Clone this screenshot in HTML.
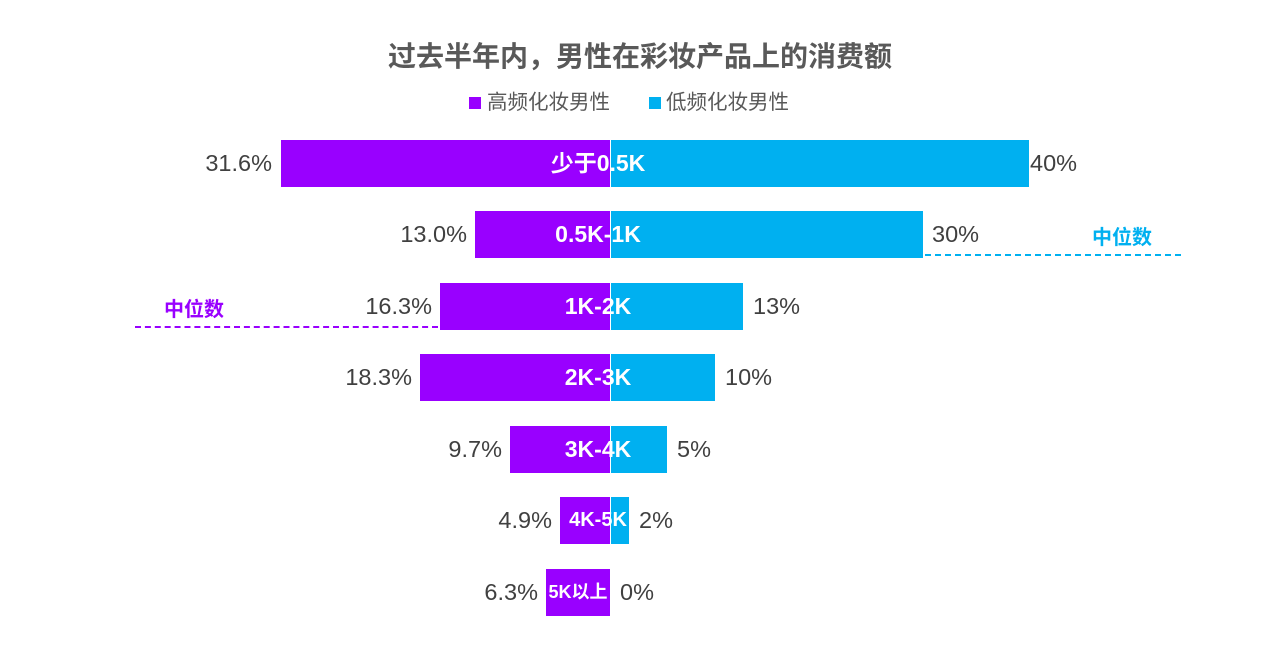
<!DOCTYPE html>
<html><head><meta charset="utf-8"><style>
body{margin:0;width:1280px;height:665px;background:#fff;position:relative;overflow:hidden;font-family:"Liberation Sans","Noto Sans CJK SC",sans-serif;}
.a{position:absolute;white-space:nowrap}
.p{background:#9900FF;position:absolute}
.b{background:#00B0F0;position:absolute}
.pl{position:absolute;font-size:23.5px;color:#404040;line-height:47px}
.lb{position:absolute;color:#fff;font-weight:bold;font-size:23px;line-height:47px;width:200px;text-align:center;left:498px}
</style></head><body>
<div class="a" style="left:0;width:1280px;text-align:center;top:39px;font-size:28px;font-weight:bold;color:#595959;line-height:36px">过去半年内，男性在彩妆产品上的消费额</div>
<div class="a" style="left:469px;top:97px;width:12px;height:12px;background:#9900FF"></div>
<div class="a" style="left:487px;top:89px;font-size:20.5px;color:#595959;line-height:28px">高频化妆男性</div>
<div class="a" style="left:649px;top:97px;width:12px;height:12px;background:#00B0F0"></div>
<div class="a" style="left:666px;top:89px;font-size:20.5px;color:#595959;line-height:28px">低频化妆男性</div>

<div class="p" style="left:281px;width:329px;top:140px;height:47px"></div>
<div class="b" style="left:611px;width:418px;top:140px;height:47px"></div>
<div class="pl" style="right:1008px;top:140px">31.6%</div>
<div class="pl" style="left:1030px;top:140px">40%</div>
<div class="lb" style="top:140px">少于0.5K</div>

<div class="p" style="left:475px;width:135px;top:211px;height:47px"></div>
<div class="b" style="left:611px;width:312px;top:211px;height:47px"></div>
<div class="pl" style="right:813px;top:211px">13.0%</div>
<div class="pl" style="left:932px;top:211px">30%</div>
<div class="lb" style="top:211px">0.5K-1K</div>

<div class="p" style="left:440px;width:170px;top:283px;height:47px"></div>
<div class="b" style="left:611px;width:132px;top:283px;height:47px"></div>
<div class="pl" style="right:848px;top:283px">16.3%</div>
<div class="pl" style="left:753px;top:283px">13%</div>
<div class="lb" style="top:283px">1K-2K</div>

<div class="p" style="left:420px;width:190px;top:354px;height:47px"></div>
<div class="b" style="left:611px;width:104px;top:354px;height:47px"></div>
<div class="pl" style="right:868px;top:354px">18.3%</div>
<div class="pl" style="left:725px;top:354px">10%</div>
<div class="lb" style="top:354px">2K-3K</div>

<div class="p" style="left:510px;width:100px;top:426px;height:47px"></div>
<div class="b" style="left:611px;width:56px;top:426px;height:47px"></div>
<div class="pl" style="right:778px;top:426px">9.7%</div>
<div class="pl" style="left:677px;top:426px">5%</div>
<div class="lb" style="top:426px">3K-4K</div>

<div class="p" style="left:560px;width:50px;top:497px;height:47px"></div>
<div class="b" style="left:611px;width:18px;top:497px;height:47px"></div>
<div class="pl" style="right:728px;top:497px">4.9%</div>
<div class="pl" style="left:639px;top:497px">2%</div>
<div class="lb" style="top:497px;font-size:20px">4K-5K</div>

<div class="p" style="left:546px;width:64px;top:569px;height:47px"></div>
<div class="pl" style="right:742px;top:569px">6.3%</div>
<div class="pl" style="left:620px;top:569px">0%</div>
<div class="lb" style="top:569px;font-size:18px;left:478px">5K以上</div>

<div class="a" style="left:925px;top:254px;width:256px;border-top:2px dashed #00B0F0"></div>
<div class="a" style="left:1092px;top:224px;font-size:20px;font-weight:bold;color:#00B0F0;line-height:28px">中位数</div>
<div class="a" style="left:135px;top:326px;width:303px;border-top:2px dashed #9900FF"></div>
<div class="a" style="left:164px;top:296px;font-size:20px;font-weight:bold;color:#9900FF;line-height:28px">中位数</div>
</body></html>
